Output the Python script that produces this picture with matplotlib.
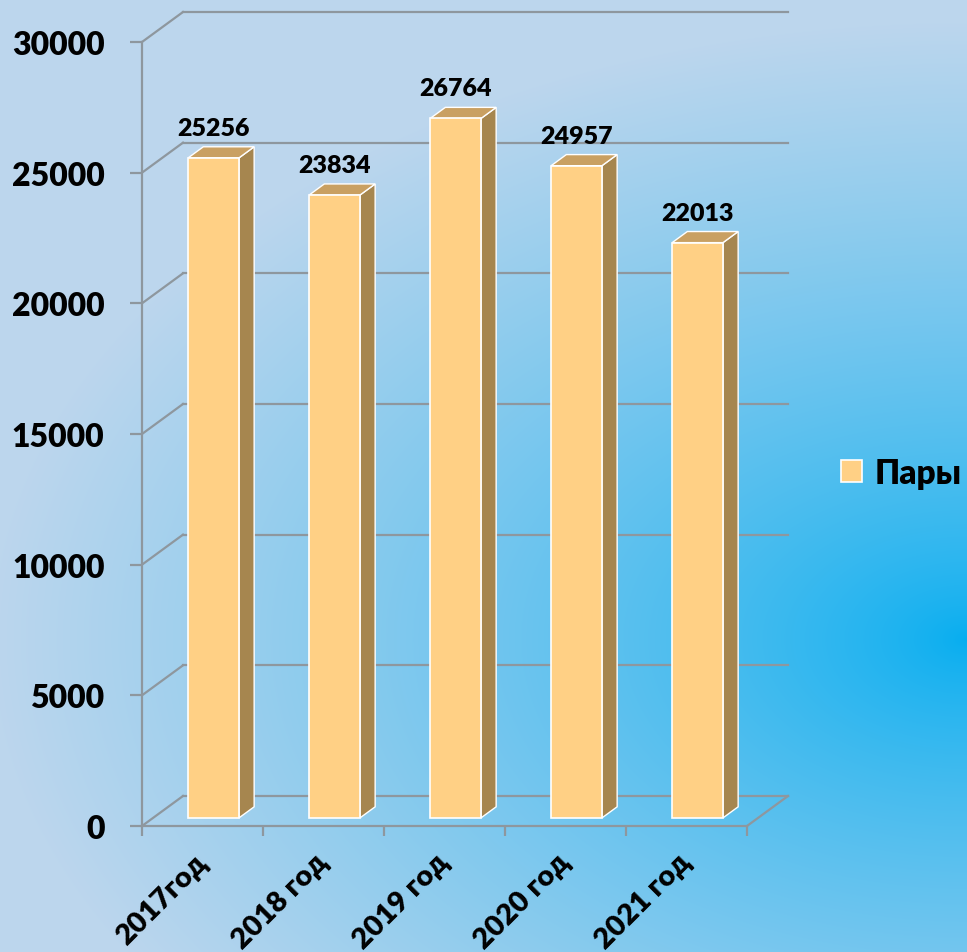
import numpy as np
import matplotlib.pyplot as plt
from matplotlib.patches import Polygon, Patch
from matplotlib.transforms import ScaledTranslation

# data
years = ['2017год', '2018 год', '2019 год', '2020 год', '2021 год']
pairs = [25256, 23834, 26764, 24957, 22013]
y_ticks = [0, 5000, 10000, 15000, 20000, 25000, 30000]
series_name = 'Пары'

W, H = 967, 953
plt.rcParams['font.family'] = ['Lato', 'Open Sans', 'DejaVu Sans']
plt.rcParams['font.weight'] = 'heavy'
WT = 'heavy'

front_col = '#FFD085'
side_col = '#A6864F'
top_col = '#C9A062'
grid_col = '#8E979E'

fig = plt.figure(figsize=(W / 100, H / 100), dpi=100)

# background: light blue fading into a bright blue on the right
bg = fig.add_axes([0, 0, 1, 1], zorder=0)
yy, xx = np.mgrid[0:H, 0:W]
t = np.sqrt(((xx - W) / 980) ** 2 + ((yy - 640) / 620) ** 2)
t = np.clip(t, 0, 1) ** 0.75
light = np.array([0.74, 0.84, 0.93])
dark = np.array([0.02, 0.68, 0.94])
img = dark + (light - dark) * t[..., None]
bg.imshow(img, aspect='auto', extent=[0, W, H, 0])
bg.axis('off')

# main axes = front plane of the 3D box
ax = fig.add_axes([142 / W, 1 - 827 / H, (747 - 142) / W, (827 - 43) / H], zorder=1)
ax.patch.set_alpha(0)
ax.set_xlim(-0.5, len(years) - 0.5)
ax.set_ylim(0, 30000)

DX = 41 / 121            # depth shift, category units
DY = 30 * 30000 / 784    # depth shift, value units
f1, f2 = 0.27, 0.64      # front/back of the bars inside the depth
hw = 0.21                # half bar width

# back wall and left wall grid
x0, x1 = -0.5, len(years) - 0.5
for v in y_ticks:
    ax.plot([x0 + DX, x1 + DX], [v + DY, v + DY], color=grid_col, lw=1.6, clip_on=False, zorder=1)
    ax.plot([x0, x0 + DX], [v, v + DY], color=grid_col, lw=1.6, clip_on=False, zorder=1)
ax.plot([x1, x1 + DX], [0, DY], color=grid_col, lw=1.6, clip_on=False, zorder=1)

# bars
xs = np.arange(len(years))
ax.bar(xs + f1 * DX, pairs, bottom=f1 * DY, width=2 * hw, color=front_col,
       edgecolor='white', linewidth=1.2, zorder=3)
for x, v in zip(xs, pairs):
    side = [(x + hw + f1 * DX, f1 * DY), (x + hw + f2 * DX, f2 * DY),
            (x + hw + f2 * DX, v + f2 * DY), (x + hw + f1 * DX, v + f1 * DY)]
    top = [(x - hw + f1 * DX, v + f1 * DY), (x + hw + f1 * DX, v + f1 * DY),
           (x + hw + f2 * DX, v + f2 * DY), (x - hw + f2 * DX, v + f2 * DY)]
    ax.add_patch(Polygon(side, closed=True, facecolor=side_col, edgecolor='white',
                         lw=1.0, zorder=2, clip_on=False))
    ax.add_patch(Polygon(top, closed=True, facecolor=top_col, edgecolor='white',
                         lw=1.0, zorder=2, clip_on=False))
    ax.text(x + f1 * DX, v + f1 * DY + 1150, str(v), ha='center', va='center',
            fontsize=18, fontweight=WT, color='black', clip_on=False, zorder=4)

# axes styling
for s in ['top', 'right']:
    ax.spines[s].set_visible(False)
for s in ['left', 'bottom']:
    ax.spines[s].set_color(grid_col)
    ax.spines[s].set_linewidth(1.6)
    ax.spines[s].set_zorder(1)

ax.set_yticks(y_ticks)
ax.set_yticklabels([str(v) for v in y_ticks], fontweight=WT)
ax.tick_params(axis='y', direction='out', length=9, width=1.6, color=grid_col,
               pad=18, labelsize=23)

ax.set_xticks(np.arange(len(years) + 1) - 0.5)
ax.set_xticklabels([])
ax.tick_params(axis='x', which='major', direction='out', length=7.5, width=1.6, color=grid_col)
ax.set_xticks(xs, minor=True)
ax.set_xticklabels(years, minor=True, rotation=45, ha='right', va='top',
                   rotation_mode='anchor', fontsize=21, fontweight=WT)
ax.tick_params(axis='x', which='minor', length=0, pad=16)
shift = ScaledTranslation(-9 / 100, 0, fig.dpi_scale_trans)
for lab in ax.get_xticklabels(minor=True):
    lab.set_transform(lab.get_transform() + shift)

# legend
leg = ax.legend(handles=[Patch(facecolor=front_col, edgecolor='white', lw=1.2)],
                labels=[series_name], loc='center left',
                bbox_to_anchor=(841 / W, 1 - 474 / H), bbox_transform=fig.transFigure,
                frameon=False, handlelength=0.62, handleheight=0.62,
                handletextpad=0.4, borderpad=0, borderaxespad=0,
                prop={'size': 24, 'weight': WT})

fig.savefig('out.png', dpi=100)
